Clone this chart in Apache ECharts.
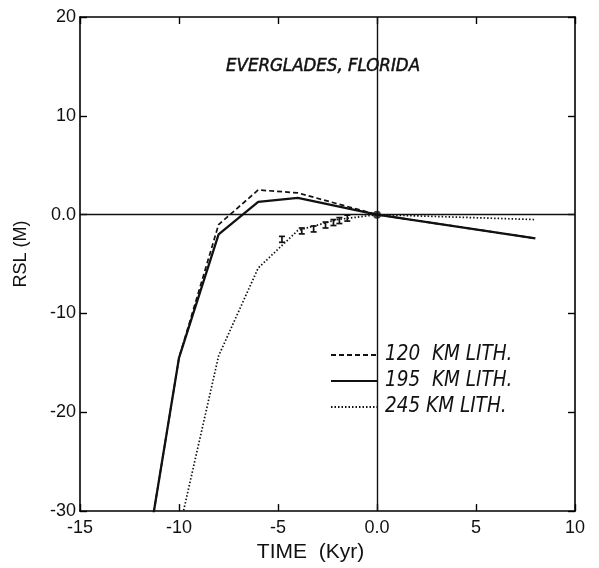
<!DOCTYPE html>
<html>
<head>
<meta charset="utf-8">
<script src="https://cdn.jsdelivr.net/npm/echarts@6/dist/echarts.min.js"></script>
<style>
  html, body { margin: 0; padding: 0; background: #fff; }
  #chart { width: 599px; height: 568px; }
</style>
</head>
<body>
<div id="chart"></div>
<script>
// Relative sea level predictions, Everglades, for three lithosphere thicknesses
const time120 = [-12, -10, -8, -6, -4, 0, 8];
const rsl120  = [-39, -14.5, -1.0, 2.5, 2.2, 0, -2.4];

const time195 = [-12, -10, -8, -6, -4, 0, 8];
const rsl195  = [-39, -14.5, -2.0, 1.3, 1.7, 0, -2.4];

const time245 = [-10, -8, -6, -4, -2, 0, 8];
const rsl245  = [-32, -14.3, -5.4, -1.6, -0.5, 0, -0.5];

// Observed sea-level index points with their error range (m)
const obsTime = [-4.8, -3.8, -3.2, -2.6, -2.2, -1.9, -1.5];
const obsRsl  = [-2.5, -1.65, -1.45, -1.05, -0.8, -0.6, -0.35];
const obsErr  = [0.3, 0.3, 0.3, 0.3, 0.3, 0.3, 0.3];

const seriesNames = ['120  KM LITH.', '195  KM LITH.', '245 KM LITH.'];
const titleText = 'EVERGLADES, FLORIDA';

const pairs = (xs, ys) => xs.map((x, i) => [x, ys[i]]);
const zeroFmt = v => (v === 0 ? '0.0' : String(v));

const baseFont = "'Liberation Sans', Arial, sans-serif";
const handFont = "'Liberation Sans Narrow', 'DejaVu Sans Condensed', 'Liberation Sans', sans-serif";

const frameAxis = {
  axisLine: { show: true, onZero: false, lineStyle: { color: '#000', width: 1.6 } },
  axisTick: { show: true, inside: true, length: 7, lineStyle: { color: '#000', width: 1.4 } },
  splitLine: { show: false }
};

const chart = echarts.init(document.getElementById('chart'), null, { renderer: 'canvas' });

chart.setOption({
  animation: false,
  backgroundColor: '#fff',
  color: ['#111', '#111', '#111'],
  title: {
    text: titleText,
    left: 221,
    top: 52,
    textStyle: {
      fontFamily: handFont, fontStyle: 'italic', fontWeight: 'normal', fontSize: 18.5, color: '#111',
      textBorderColor: '#111', textBorderWidth: 0.5
    }
  },
  grid: { left: 80, right: 24, top: 17, bottom: 54, containLabel: false },
  legend: {
    orient: 'vertical',
    left: 326,
    top: 343,
    itemWidth: 47,
    itemHeight: 14,
    itemGap: 6,
    padding: [2, 4, 2, 4],
    backgroundColor: '#fff',
    data: seriesNames,
    itemStyle: { opacity: 0 },
    textStyle: { fontFamily: handFont, fontStyle: 'italic', fontSize: 20.5, color: '#111', lineHeight: 18, padding: [0, 0, 0, 2] }
  },
  xAxis: [
    Object.assign({
      type: 'value', position: 'bottom', min: -15, max: 10, interval: 5,
      name: 'TIME  (Kyr)', nameLocation: 'middle', nameGap: 28,
      nameTextStyle: { fontFamily: baseFont, fontSize: 21, color: '#111', padding: [0, 34, 0, 0] },
      axisLabel: { color: '#111', fontFamily: baseFont, fontSize: 18, margin: 8, formatter: zeroFmt }
    }, frameAxis),
    Object.assign({
      type: 'value', position: 'top', min: -15, max: 10, interval: 5,
      axisLabel: { show: false }
    }, frameAxis)
  ],
  yAxis: [
    Object.assign({
      type: 'value', position: 'left', min: -30, max: 20, interval: 10,
      name: 'RSL (M)', nameLocation: 'middle', nameRotate: 90, nameGap: 50,
      nameTextStyle: { fontFamily: baseFont, fontSize: 18, color: '#111', padding: [0, 0, 0, 20] },
      axisLabel: { color: '#111', fontFamily: baseFont, fontSize: 18, margin: 4, formatter: zeroFmt }
    }, frameAxis),
    Object.assign({
      type: 'value', position: 'right', min: -30, max: 20, interval: 10,
      axisLabel: { show: false }
    }, frameAxis)
  ],
  series: [
    {
      name: seriesNames[0], type: 'line', symbol: 'none', clip: true,
      data: pairs(time120, rsl120),
      itemStyle: { color: '#111' },
      lineStyle: { color: '#111', width: 1.7, type: [5, 3] }
    },
    {
      name: seriesNames[1], type: 'line', symbol: 'none', clip: true,
      data: pairs(time195, rsl195),
      itemStyle: { color: '#111' },
      lineStyle: { color: '#111', width: 2.3, type: 'solid' },
      markLine: {
        silent: true, symbol: 'none', animation: false,
        label: { show: false },
        lineStyle: { color: '#111', width: 1.4, type: 'solid' },
        data: [{ xAxis: 0 }, { yAxis: 0 }]
      }
    },
    {
      name: seriesNames[2], type: 'line', symbol: 'none', clip: true,
      data: pairs(time245, rsl245),
      itemStyle: { color: '#111' },
      lineStyle: { color: '#111', width: 1.7, type: [1.5, 2] }
    },
    {
      name: 'obs', type: 'custom',
      data: obsTime.map((t, i) => [t, obsRsl[i], obsErr[i]]),
      renderItem: (params, api) => {
        const x = api.value(0), y = api.value(1), e = api.value(2);
        const top = api.coord([x, y + e]);
        const bot = api.coord([x, y - e]);
        const cap = 3;
        const st = { stroke: '#111', lineWidth: 1.7 };
        return {
          type: 'group',
          children: [
            { type: 'line', shape: { x1: top[0], y1: top[1], x2: bot[0], y2: bot[1] }, style: st },
            { type: 'line', shape: { x1: top[0] - cap, y1: top[1], x2: top[0] + cap, y2: top[1] }, style: st },
            { type: 'line', shape: { x1: bot[0] - cap, y1: bot[1], x2: bot[0] + cap, y2: bot[1] }, style: st }
          ]
        };
      }
    },
    {
      name: 'present', type: 'scatter', symbol: 'circle', symbolSize: 8,
      itemStyle: { color: '#111' },
      data: [[0, 0]]
    }
  ]
});
</script>
</body>
</html>
